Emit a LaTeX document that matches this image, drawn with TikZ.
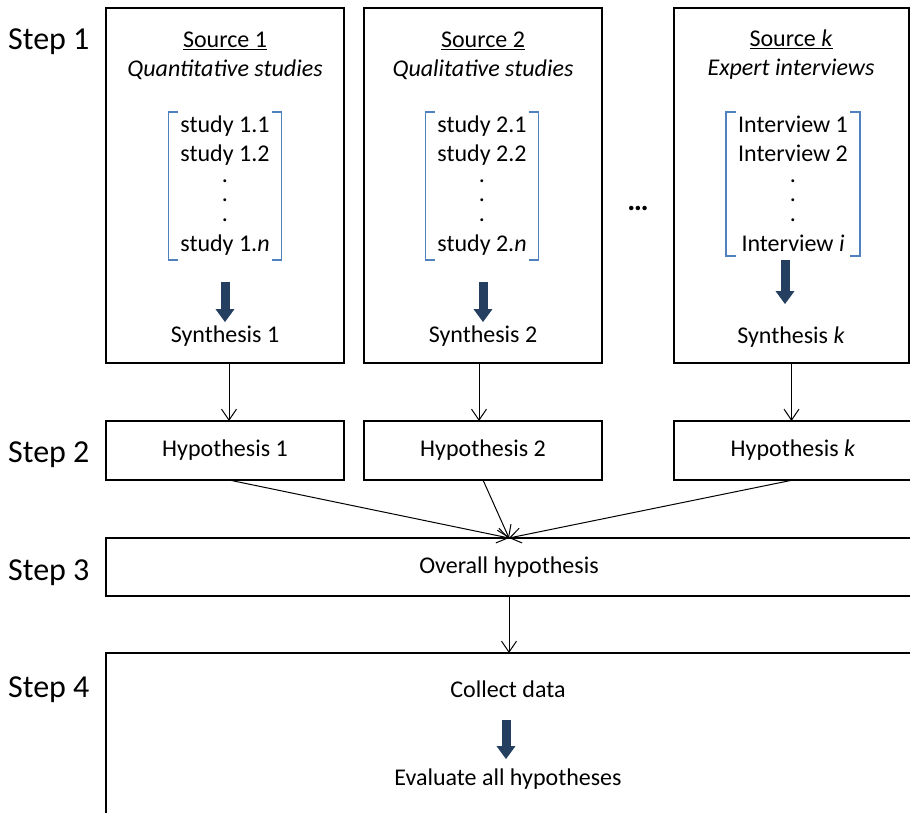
\documentclass[tikz,border=0pt]{standalone}
\usepackage{fontspec}
\setmainfont{Carlito}
\usetikzlibrary{arrows.meta,positioning}
\definecolor{navyarrow}{HTML}{243F60}
\definecolor{bracketblue}{HTML}{4F81BD}
\tikzset{>=latex}

\begin{document}
\begin{tikzpicture}[
    x=1pt, y=-1pt,
    font=\fontsize{24}{29}\selectfont,
    box/.style={draw, line width=1.6pt, rectangle, anchor=north west, inner sep=0pt, outer sep=0pt},
    txt/.style={anchor=base, inner sep=0pt},
    list/.style={anchor=north, align=center, inner xsep=12pt, inner ysep=4pt},
    steplabel/.style={anchor=base west, inner sep=0pt, font=\fontsize{32}{38}\selectfont},
    link/.style={line width=1pt, -{Straight Barb[length=11pt,width=15pt]}},
    fat/.style={draw=navyarrow, line width=9pt, -{Triangle[length=13pt,width=18pt]}},
    bracket/.style={draw=bracketblue, line width=1.2pt}
]
    \useasboundingbox (0,0) rectangle (910,813);

    % Step labels
    \node[steplabel] (step1) at (8,50) {Step 1};
    \node[steplabel] (step2) at (8,462) {Step 2};
    \node[steplabel] (step3) at (8,580) {Step 3};
    \node[steplabel] (step4) at (8,697) {Step 4};

    % Boxes
    \node[box, minimum width=238pt, minimum height=355pt] (src1) at (106,8) {};
    \node[box, minimum width=238pt, minimum height=355pt] (src2) at (364,8) {};
    \node[box, minimum width=235pt, minimum height=355pt] (srck) at (674,8) {};
    \node[box, minimum width=238pt, minimum height=59pt] (hyp1) at (106,421) {Hypothesis 1};
    \node[box, minimum width=238pt, minimum height=59pt] (hyp2) at (364,421) {Hypothesis 2};
    \node[box, minimum width=238pt, minimum height=59pt] (hypk) at (674,421) {Hypothesis \textit{k}};
    \node[box, minimum width=806pt, minimum height=58pt] (overall) at (106,538) {Overall hypothesis};
    \node[box, minimum width=806pt, minimum height=200pt] (collect) at (106,653) {};

    % Source 1
    \node[txt] (title1) at (225,48) {\underline{Source 1}};
    \node[txt] (kind1) at (225,77) {\textit{Quantitative studies}};
    \node[list] (list1) at (225,112) {study 1.1\\ study 1.2\\[-8pt] .\\[-10pt] .\\[-9pt] .\\[1pt] study 1.\textit{n}};
    \node[txt] (syn1) at (225,342) {Synthesis 1};

    % Source 2
    \node[txt] (title2) at (483,48) {\underline{Source 2}};
    \node[txt] (kind2) at (483,77) {\textit{Qualitative studies}};
    \node[list] (list2) at (482,112) {study 2.1\\ study 2.2\\[-8pt] .\\[-10pt] .\\[-9pt] .\\[1pt] study 2.\textit{n}};
    \node[txt] (syn2) at (483,342) {Synthesis 2};

    % Source k
    \node[txt] (titlek) at (791,47) {\underline{Source \textit{k}}};
    \node[txt] (kindk) at (791,76) {\textit{Expert interviews}};
    \node[list] (listk) at (793,112) {Interview 1\\ Interview 2\\[-8pt] .\\[-10pt] .\\[-9pt] .\\[1pt] Interview \textit{i}};
    \node[txt] (synk) at (791,343) {Synthesis \textit{k}};

    \node[font=\fontsize{30}{36}\selectfont\bfseries] (more) at (638,208) {\ldots};

    % Step 4
    \node[txt] (data) at (508,697) {Collect data};
    \node[txt] (evaluate) at (508,785) {Evaluate all hypotheses};

    % Brackets
    \foreach \n in {list1,list2,listk} {
        \draw[bracket] ([xshift=10pt]\n.north west) -| (\n.south west) -- ++(10,0);
        \draw[bracket] ([xshift=-10pt]\n.north east) -| (\n.south east) -- ++(-10,0);
    }

    % Fat arrows
    \draw[fat, shorten <=22pt, shorten >=3pt] (syn1.north |- list1.south) -- (syn1.north);
    \draw[fat, shorten <=22pt, shorten >=3pt] (syn2.north |- list2.south) -- (syn2.north);
    \draw[fat, shorten <=4pt, shorten >=22pt] ([xshift=-6pt]synk.north |- listk.south) -- ([xshift=-6pt]synk.north);
    \draw[fat, shorten <=23pt, shorten >=9pt] ([xshift=-2pt]data.south) -- ([xshift=-2pt]evaluate.north);

    % Arrows
    \coordinate (meet) at (overall.north);
    \draw[link] ([xshift=4pt]src1.south) -- ([xshift=4pt]hyp1.north);
    \draw[link] ([xshift=-4pt]src2.south) -- ([xshift=-4pt]hyp2.north);
    \draw[link] (srck.south) -- (srck.south |- hypk.north);
    \draw[link] ([xshift=4pt]hyp1.south) -- (meet);
    \draw[link] (hyp2.south) -- (meet);
    \draw[link] (hypk.south) -- (meet);
    \draw[link] (overall) -- (collect);
\end{tikzpicture}
\end{document}
